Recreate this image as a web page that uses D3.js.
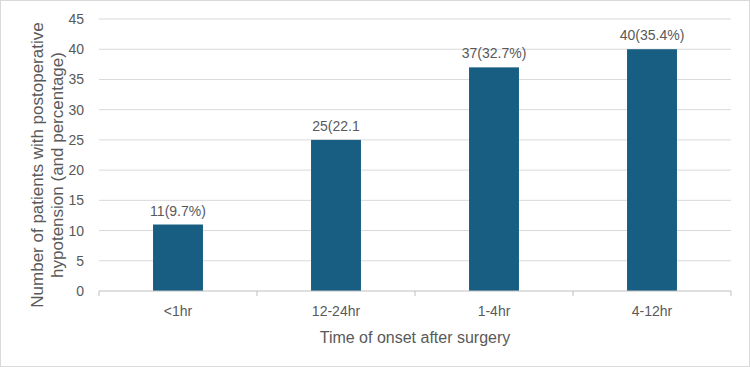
<!DOCTYPE html>
<html>
<head>
<meta charset="utf-8">
<script src="https://cdn.jsdelivr.net/npm/d3@7"></script>
<style>
  body { margin: 0; background: #fff; }
  text { font-family: "Liberation Sans", Arial, sans-serif; fill: #595959; }
</style>
</head>
<body>
<div id="chart"></div>
<script>
// * Data
var categories = ["<1hr", "12-24hr", "1-4hr", "4-12hr"];
var counts = [11, 25, 37, 40];
var labels = ["11(9.7%)", "25(22.1", "37(32.7%)", "40(35.4%)"];
var yTicks = [0, 5, 10, 15, 20, 25, 30, 35, 40, 45];

var W = 750, H = 367;
var margin = { left: 99, top: 19, right: 19, bottom: 76 };
var width = W - margin.left - margin.right;
var height = H - margin.top - margin.bottom;

var svg = d3.select("#chart").append("svg")
  .attr("width", W)
  .attr("height", H);

// * outer border
svg.append("rect")
  .attr("x", 0.5).attr("y", 0.5)
  .attr("width", W - 1).attr("height", H - 1)
  .attr("fill", "#fff")
  .attr("stroke", "#d9d9d9");

var g = svg.append("g")
  .attr("transform", "translate(" + margin.left + "," + margin.top + ")");

var x = d3.scaleBand().domain(categories).range([0, width]).paddingInner(0.684).paddingOuter(0.342);
var xb = d3.scaleBand().domain(categories).range([0, width]);
var y = d3.scaleLinear().domain([0, 45]).range([height, 0]);

// * gridlines
g.append("g")
  .selectAll("line")
  .data(yTicks.slice(1))
  .enter().append("line")
  .attr("x1", 0).attr("x2", width)
  .attr("y1", function (d) { return y(d); })
  .attr("y2", function (d) { return y(d); })
  .attr("stroke", "#d9d9d9");

// * y tick labels
var yAxis = g.append("g")
  .call(d3.axisLeft(y).tickValues(yTicks).tickSize(0).tickPadding(15));
yAxis.select(".domain").remove();
yAxis.selectAll("text").style("font-size", "14px").attr("fill", "#595959");

// * bars
g.selectAll(".bar")
  .data(counts)
  .enter().append("rect")
  .attr("class", "bar")
  .attr("x", function (d, i) { return x(categories[i]); })
  .attr("width", x.bandwidth())
  .attr("y", function (d) { return y(d); })
  .attr("height", function (d) { return height - y(d); })
  .attr("fill", "#175e82");

// * data labels
g.selectAll(".lbl")
  .data(counts)
  .enter().append("text")
  .attr("class", "lbl")
  .attr("x", function (d, i) { return x(categories[i]) + x.bandwidth() / 2; })
  .attr("y", function (d) { return y(d) - 9; })
  .attr("text-anchor", "middle")
  .style("font-size", "14px")
  .text(function (d, i) { return labels[i]; });

// * x axis
var xAxis = g.append("g")
  .attr("transform", "translate(0," + height + ")");
xAxis.append("line")
  .attr("x1", 0).attr("x2", width)
  .attr("stroke", "#bfbfbf");
xAxis.selectAll(".tk")
  .data(categories.concat([null]))
  .enter().append("line")
  .attr("x1", function (d, i) { return i < categories.length ? xb(d) : width; })
  .attr("x2", function (d, i) { return i < categories.length ? xb(d) : width; })
  .attr("y1", 0).attr("y2", 5)
  .attr("stroke", "#bfbfbf");
xAxis.selectAll(".xl")
  .data(categories)
  .enter().append("text")
  .attr("x", function (d) { return xb(d) + xb.bandwidth() / 2; })
  .attr("y", 25)
  .attr("text-anchor", "middle")
  .style("font-size", "14px")
  .text(function (d) { return d; });

// * axis titles
svg.append("text")
  .attr("x", margin.left + width / 2)
  .attr("y", 343)
  .attr("text-anchor", "middle")
  .style("font-size", "16px")
  .text("Time of onset after surgery");

var yt = svg.append("text")
  .attr("transform", "translate(0,165) rotate(-90)")
  .attr("text-anchor", "middle")
  .style("font-size", "17px");
yt.append("tspan").attr("x", 0).attr("y", 43).text("Number of patients with postoperative");
yt.append("tspan").attr("x", 0).attr("y", 63).text("hypotension (and percentage)");
</script>
</body>
</html>
